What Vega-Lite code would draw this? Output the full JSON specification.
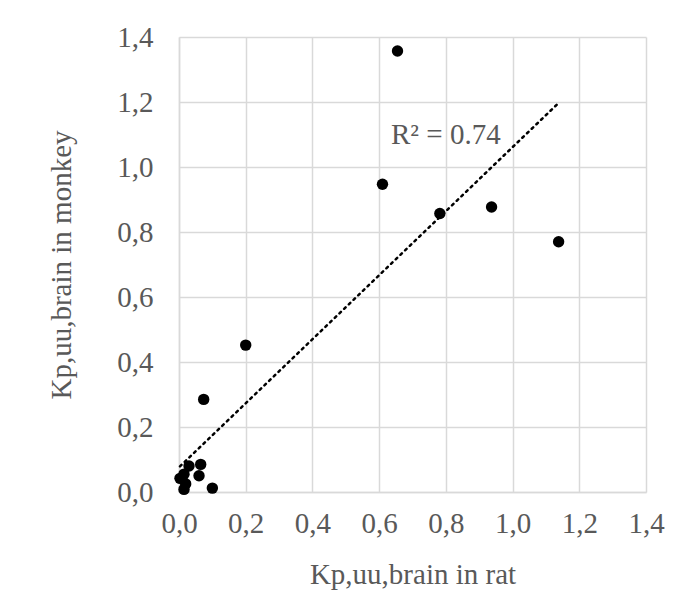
{
  "$schema": "https://vega.github.io/schema/vega-lite/v6.json",
  "width": 467,
  "height": 455,
  "autosize": {"type": "none"},
  "padding": {"left": 179, "top": 37, "right": 41, "bottom": 119},
  "background": "white",
  "config": {
    "view": {"stroke": null},
    "font": "Liberation Serif",
    "axis": {
      "grid": true,
      "gridColor": "#d9d9d9",
      "gridWidth": 1.5,
      "domainColor": "#d9d9d9",
      "domainWidth": 1.5,
      "ticks": false,
      "labelFlush": false,
      "labelOverlap": false,
      "labelFont": "Liberation Serif",
      "labelFontSize": 29,
      "labelColor": "#595959",
      "titleFont": "Liberation Serif",
      "titleFontSize": 29,
      "titleFontWeight": "normal",
      "titleColor": "#595959"
    }
  },
  "datasets": {
    "points": [
      {"rat": 0.003, "monkey": 0.042},
      {"rat": 0.015, "monkey": 0.008},
      {"rat": 0.02, "monkey": 0.025},
      {"rat": 0.015, "monkey": 0.055},
      {"rat": 0.03, "monkey": 0.08},
      {"rat": 0.065, "monkey": 0.085},
      {"rat": 0.06, "monkey": 0.05},
      {"rat": 0.1, "monkey": 0.012},
      {"rat": 0.074, "monkey": 0.285},
      {"rat": 0.2, "monkey": 0.452},
      {"rat": 0.61, "monkey": 0.947},
      {"rat": 0.655, "monkey": 1.357},
      {"rat": 0.782, "monkey": 0.857},
      {"rat": 0.937, "monkey": 0.877},
      {"rat": 1.138, "monkey": 0.77}
    ],
    "trend": [
      {"rat": 0.003, "monkey": 0.079},
      {"rat": 1.138, "monkey": 1.197}
    ],
    "label": [
      {"rat": 0.8, "monkey": 1.1, "text": "R² = 0.74"}
    ]
  },
  "layer": [
    {
      "data": {"name": "points"},
      "mark": {"type": "circle", "size": 130, "color": "black", "opacity": 1},
      "encoding": {
        "x": {
          "field": "rat", "type": "quantitative",
          "scale": {"domain": [0, 1.4], "nice": false, "zero": true},
          "axis": {
            "title": "Kp,uu,brain in rat",
            "values": [0, 0.2, 0.4, 0.6, 0.8, 1.0, 1.2, 1.4],
            "labelExpr": "replace(format(datum.value, '.1f'), '.', ',')",
            "labelPadding": 17, "titlePadding": 22
          }
        },
        "y": {
          "field": "monkey", "type": "quantitative",
          "scale": {"domain": [0, 1.4], "nice": false, "zero": true},
          "axis": {
            "title": "Kp,uu,brain in monkey",
            "values": [0, 0.2, 0.4, 0.6, 0.8, 1.0, 1.2, 1.4],
            "labelExpr": "replace(format(datum.value, '.1f'), '.', ',')",
            "labelPadding": 26, "titlePadding": 40
          }
        }
      }
    },
    {
      "data": {"name": "trend"},
      "mark": {"type": "line", "color": "black", "strokeDash": [2, 4.5], "strokeWidth": 2.5, "strokeCap": "round"},
      "encoding": {
        "x": {"field": "rat", "type": "quantitative"},
        "y": {"field": "monkey", "type": "quantitative"}
      }
    },
    {
      "data": {"name": "label"},
      "mark": {"type": "text", "fontSize": 29, "color": "#595959", "font": "Liberation Serif"},
      "encoding": {
        "x": {"field": "rat", "type": "quantitative"},
        "y": {"field": "monkey", "type": "quantitative"},
        "text": {"field": "text"}
      }
    }
  ]
}
